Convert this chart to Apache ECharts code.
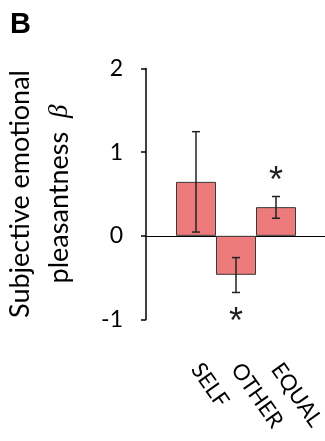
<!DOCTYPE html>
<html><head><meta charset="utf-8">
<script src="https://cdn.jsdelivr.net/npm/echarts@6/dist/echarts.min.js"></script>
<style>html,body{margin:0;padding:0;background:#fff}#c{width:325px;height:441px}</style>
</head><body><div id="c"></div>
<script>
var categories = ['SELF', 'OTHER', 'EQUAL'];
var means = [0.645, -0.466, 0.343];
var errUpper = [1.245, -0.26, 0.47];
var errLower = [0.045, -0.677, 0.21];
var significant = [false, true, true];
var yTicks = [-1, 0, 1, 2];

var FONT = 'Lato';
var chart = echarts.init(document.getElementById('c'), null, {renderer: 'canvas'});
var option = {
  animation: false,
  title: {text: 'B', left: 5, top: 5, textStyle: {fontFamily: 'Liberation Sans', fontWeight: 'bold', fontSize: 29, color: '#000'}},
  grid: [
    {left: 176, right: 29, top: 68.5, height: 251, containLabel: false, outerBoundsMode: 'none'},
    {left: 146, right: 0, top: 68.5, height: 251, containLabel: false, outerBoundsMode: 'none'}
  ],
  xAxis: [
    {gridIndex: 0, type: 'category', data: categories,
     axisLine: {show: false}, axisTick: {show: false},
     axisLabel: {rotate: -55, margin: 46, fontSize: 22, fontFamily: FONT, color: '#000'}},
    {gridIndex: 1, type: 'value', min: 0, max: 1,
     axisLine: {show: true, onZero: true, lineStyle: {color: '#000', width: 1}},
     axisTick: {show: false}, axisLabel: {show: false}, splitLine: {show: false}}
  ],
  yAxis: [
    {gridIndex: 0, type: 'value', min: -1, max: 2, interval: 1, show: false},
    {gridIndex: 1, type: 'value', min: -1, max: 2, interval: 1,
     axisLine: {show: true, onZero: false, lineStyle: {color: '#000', width: 1.5}},
     axisTick: {show: true, inside: false, length: 5, lineStyle: {color: '#000', width: 1.5}},
     splitLine: {show: false},
     axisLabel: {fontSize: 23, fontFamily: FONT, color: '#000', margin: 23,
       formatter: function (v) { return yTicks.indexOf(v) >= 0 ? String(v) : ''; }},
     name: '{a|Subjective emotional}\n{a|pleasantness  }{b|β}',
     nameLocation: 'middle', nameRotate: 90, nameGap: 67,
     nameTextStyle: {lineHeight: 39, rich: {
       a: {fontSize: 27, fontFamily: FONT, color: '#000', lineHeight: 39},
       b: {fontSize: 27, fontFamily: 'Liberation Serif', fontStyle: 'italic', color: '#000', lineHeight: 39}
     }}}
  ],
  series: [
    {type: 'bar', xAxisIndex: 0, yAxisIndex: 0, data: means, barWidth: '100%',
     itemStyle: {color: '#EE7B7B', borderColor: '#3a3a3a', borderWidth: 1}},
    {type: 'custom', xAxisIndex: 0, yAxisIndex: 0,
     data: categories.map(function (c, i) { return [i, errLower[i], errUpper[i], significant[i] ? 1 : 0, means[i]]; }),
     renderItem: function (params, api) {
       var i = api.value(0);
       var lo = api.coord([i, api.value(1)]);
       var hi = api.coord([i, api.value(2)]);
       var cap = 4;
       var st = {stroke: '#222', lineWidth: 1.5};
       var children = [
         {type: 'line', shape: {x1: hi[0], y1: hi[1], x2: lo[0], y2: lo[1]}, style: st},
         {type: 'line', shape: {x1: hi[0] - cap, y1: hi[1], x2: hi[0] + cap, y2: hi[1]}, style: st},
         {type: 'line', shape: {x1: lo[0] - cap, y1: lo[1], x2: lo[0] + cap, y2: lo[1]}, style: st}
       ];
       if (api.value(3)) {
         var up = api.value(4) >= 0;
         var p = up ? hi : lo;
         children.push({type: 'text', style: {text: '*', x: p[0], y: up ? p[1] - 14 : p[1] + 31,
           align: 'center', verticalAlign: 'middle', fontSize: 36, fontFamily: 'Liberation Sans', fill: '#222'}});
       }
       return {type: 'group', children: children};
     },
     z: 5}
  ]
};
chart.setOption(option);
</script></body></html>
